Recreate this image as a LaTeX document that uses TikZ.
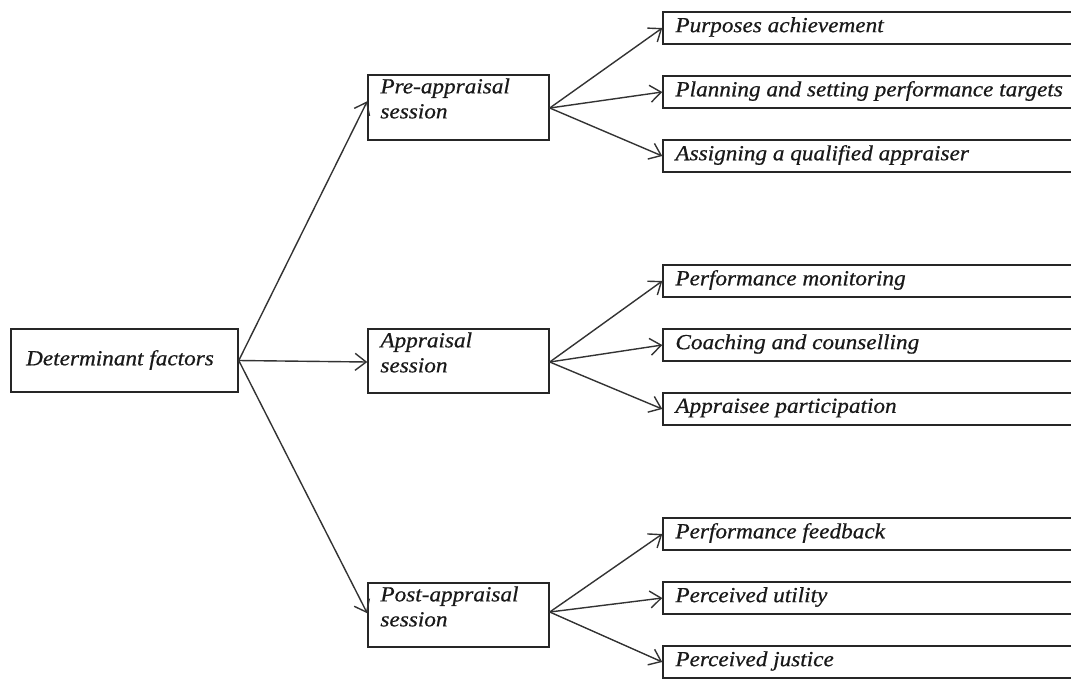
\documentclass[tikz,border=0pt]{standalone}
\usepackage{fontspec}
\setmainfont[FakeStretch=1.08,FakeBold=0.6]{Liberation Serif}
\usetikzlibrary{arrows.meta,calc}
\tikzset{
  box/.style={draw=black!85, line width=1.5pt, rectangle, inner sep=0pt},
  lbl/.style={inner sep=0pt, align=left, font=\fontsize{21.5}{25}\selectfont\itshape, text=black!90},
  conn/.style={draw=black!80, line width=1.4pt, -{Straight Barb[length=11pt,width=17pt,line width=1.4pt]}},
}
\begin{document}
\begin{tikzpicture}[x=1pt,y=-1pt]
\useasboundingbox (0,0) rectangle (1071,678);
\clip (0,0) rectangle (1071,678);
% root
\node[box, minimum width=227pt, minimum height=63pt] (det) at (124.5,360.5) {};
\node[lbl] (dett) at (120,360) {Determinant factors};
% middle boxes
\node[box, minimum width=181pt, minimum height=65pt] (pre) at (458.5,107.5) {};
\node[lbl, anchor=north west] (pret) at ($(pre.north west)+(13,4)$) {Pre-appraisal\\session};
\node[box, minimum width=181pt, minimum height=64pt] (app) at (458.5,361) {};
\node[lbl, anchor=north west] (appt) at ($(app.north west)+(13,4)$) {Appraisal\\session};
\node[box, minimum width=181pt, minimum height=64pt] (post) at (458.5,615) {};
\node[lbl, anchor=north west] (postt) at ($(post.north west)+(13,4)$) {Post-appraisal\\session};
% right boxes
\foreach \n/\y/\t in {a1/28/Purposes achievement, a2/92/Planning and setting performance targets, a3/156/Assigning a qualified appraiser,
                      b1/281/Performance monitoring, b2/345/Coaching and counselling, b3/409/Appraisee participation,
                      c1/534/Performance feedback, c2/598/Perceived utility, c3/662/Perceived justice}{
  \node[box, minimum width=440pt, minimum height=32pt] (\n) at (883,\y) {};
  \node[lbl, anchor=west] (\n t) at ($(\n.west)+(13,-1)$) {\t};
}
% connectors
\draw[conn] (det.east) -- ($(pre.north west)+(0,27)$);
\draw[conn] (det.east) -- ($(app.west)+(0,1)$);
\draw[conn] (det.east) -- ($(post.north west)+(0,31)$);
\coordinate (po) at ($(pre.east)+(0,0.5)$);
\coordinate (ao) at ($(app.east)+(0,1)$);
\coordinate (qo) at ($(post.east)+(0,-3)$);
\draw[conn] (po) -- (a1.west);
\draw[conn] (po) -- (a2.west);
\draw[conn] (po) -- (a3.west);
\draw[conn] (ao) -- (b1.west);
\draw[conn] (ao) -- (b2.west);
\draw[conn] (ao) -- (b3.west);
\draw[conn] (qo) -- (c1.west);
\draw[conn] (qo) -- (c2.west);
\draw[conn] (qo) -- (c3.west);
\end{tikzpicture}
\end{document}
